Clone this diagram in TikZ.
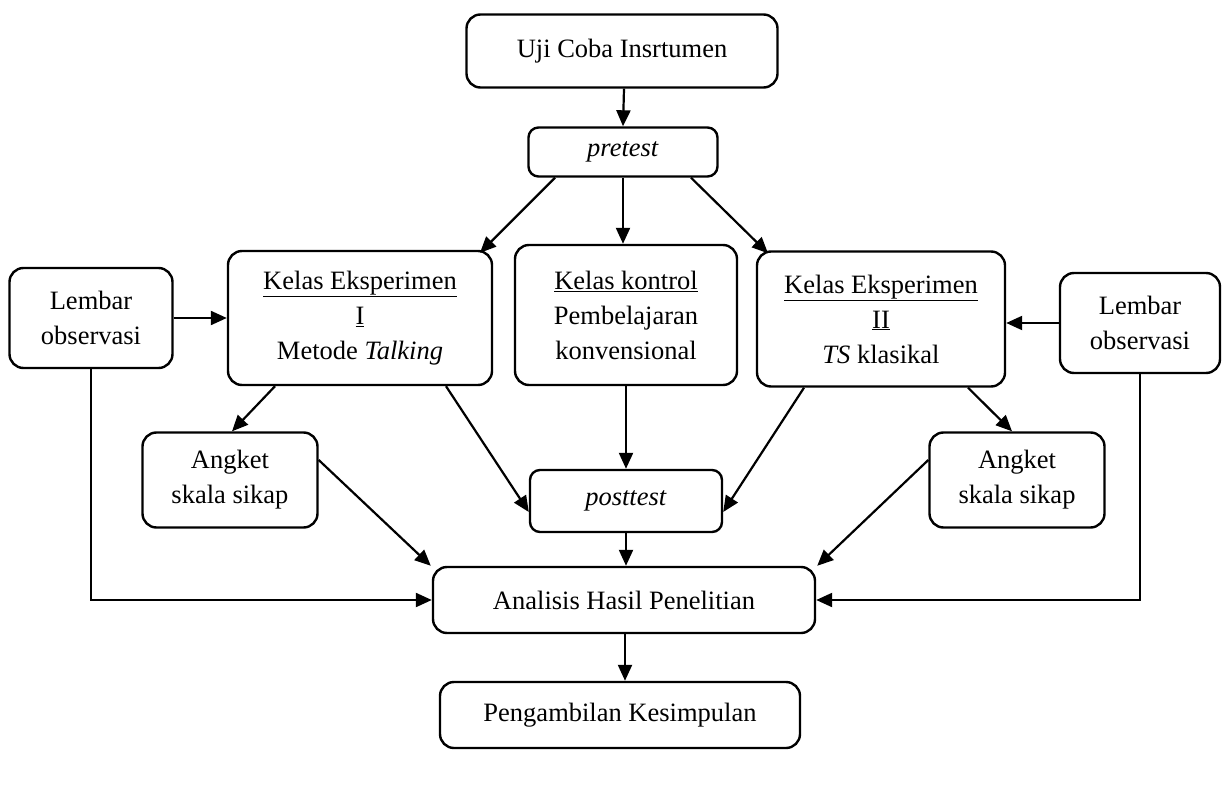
\documentclass[tikz,border=0pt]{standalone}
\usepackage{fontspec}
\setmainfont{Liberation Serif}
\usetikzlibrary{arrows.meta,positioning}

\begin{document}
\begin{tikzpicture}[x=1pt,y=-1pt,
    font=\fontsize{26.5}{35}\selectfont,
    box/.style={draw,line width=2.4pt,rounded corners=14pt,align=center,inner sep=0pt},
    arr/.style={line width=2.2pt,-{Triangle[length=16pt,width=14pt]}}]
      \useasboundingbox (0,0) rectangle (1230,791);

      \node[box,minimum width=311pt,minimum height=73pt] (uji) at (622,51) {Uji Coba Insrtumen};
      \node[box,minimum width=189pt,minimum height=49pt,rounded corners=10pt] (pre) at (623,152) {\textit{pretest}};

      \node[box,minimum width=264pt,minimum height=134pt] (ke1) at (360,318)
        {\underline{Kelas Eksperimen}\\\underline{I}\\Metode \textit{Talking}};
      \node[box,minimum width=222pt,minimum height=140pt] (kon) at (626,315)
        {\underline{Kelas kontrol}\\Pembelajaran\\konvensional};
      \node[box,minimum width=248pt,minimum height=135pt] (ke2) at (881,319)
        {\underline{Kelas Eksperimen}\\\underline{II}\\\textit{TS} klasikal};

      \node[box,minimum width=163pt,minimum height=100pt] (lob1) at (91,318) {Lembar\\observasi};
      \node[box,minimum width=160pt,minimum height=100pt] (lob2) at (1140,323) {Lembar\\observasi};

      \node[box,minimum width=175pt,minimum height=95pt] (ang1) at (230,480) {Angket\\skala sikap};
      \node[box,minimum width=175pt,minimum height=95pt] (ang2) at (1017,480) {Angket\\skala sikap};
      \node[box,minimum width=192pt,minimum height=62pt,rounded corners=10pt] (post) at (626,501) {\textit{posttest}};

      \node[box,minimum width=382pt,minimum height=66pt] (ana) at (624,600) {Analisis Hasil Penelitian};
      \node[box,minimum width=360pt,minimum height=66pt] (kes) at (620,715) {Pengambilan Kesimpulan};

      % alur utama
      \draw[arr] ([xshift=2pt]uji.south) -- ([xshift=1pt]uji.south |- pre.north);
      \draw[arr] ([xshift=-68pt]pre.south) -- ([xshift=120pt,yshift=-3pt]ke1.north);
      \draw[arr] (pre.south) -- (pre.south |- kon.north);
      \draw[arr] ([xshift=68pt]pre.south) -- ([xshift=-113pt,yshift=-3pt]ke2.north);

      \draw[arr] (lob1) -- (lob1 -| ke1.west);
      \draw[arr] (lob2) -- (lob2 -| ke2.east);

      \draw[arr] ([xshift=-85pt]ke1.south) -- ([xshift=2pt]ang1.north);
      \draw[arr] ([xshift=87pt]ke2.south) -- ([xshift=-5pt]ang2.north);

      \draw[arr] ([xshift=86pt]ke1.south) -- ([yshift=-11pt]post.west);
      \draw[arr] (kon.south) -- (kon.south |- post.north);
      \draw[arr] ([xshift=-77pt]ke2.south) -- ([yshift=-11pt]post.east);

      \draw[arr] (post.south) -- (post.south |- ana.north);
      \draw[arr] ([yshift=20pt]ang1.east) -- ([xshift=-1pt]ana.north west);
      \draw[arr] ([yshift=20pt]ang2.west) -- ([xshift=1pt]ana.north east);
      \draw[arr] (lob1) |- (ana.west);
      \draw[arr] (lob2) |- (ana.east);

      \draw[arr] ([xshift=1pt]ana.south) -- ([xshift=1pt]ana.south |- kes.north);
\end{tikzpicture}
\end{document}
